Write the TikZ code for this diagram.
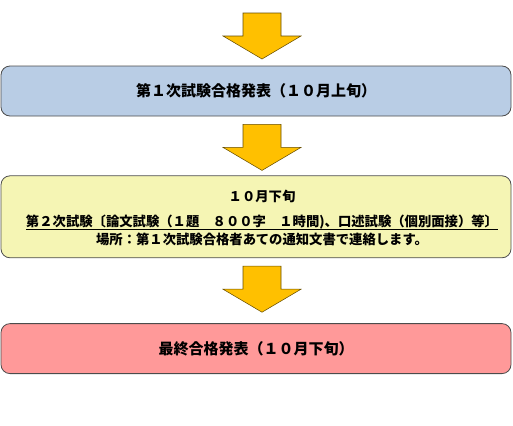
\documentclass[tikz,border=0pt]{standalone}
\usepackage{fontspec}
\newfontfamily\jpfont{Noto Sans CJK JP}
\usetikzlibrary{calc, positioning}

\definecolor{boxblue}{HTML}{B9CDE5}
\definecolor{boxyellow}{HTML}{F5F5B4}
\definecolor{boxpink}{HTML}{FF9999}
\definecolor{arrowgold}{HTML}{FFC000}

\newsavebox\ulinebox
\newcommand\ulinetext[1]{\sbox\ulinebox{#1}\rlap{\rule[-2pt]{\wd\ulinebox}{0.5pt}}\usebox\ulinebox}

\tikzset{
	stage/.style={draw=black!70, line width=0.6pt, rounded corners=6.75pt,
		minimum width=382.5pt, minimum height=37.5pt, inner sep=0pt, align=center,
		font=\jpfont\bfseries\fontsize{11.25}{13}\selectfont},
	stagetext/.style={inner sep=0pt, align=center,
		font=\jpfont\bfseries\fontsize{10}{13.5}\selectfont},
	flowarrow/.style={fill=arrowgold, draw=black!60!arrowgold, line width=0.4pt}
}

\begin{document}
\begin{tikzpicture}[x=0.75pt, y=-0.75pt]
	\useasboundingbox (0,0) rectangle (513,425);

	\node[stage, fill=boxblue] (first) at (256,91) {第１次試験合格発表（１０月上旬）};
	\node[stage, fill=boxyellow, minimum height=61.5pt, below=44.25pt of first] (second) {};
	\node[stagetext] (second text) at ($(second.center)+(6,1.5)$)
		{１０月下旬\\[5.25pt]
		\ulinetext{第２次試験〔論文試験（１題　８００字　１時間)、口述試験（個別面接）等〕}\\
		場所：第１次試験合格者あての通知文書で連絡します。};
	\node[stage, fill=boxpink, below=48.75pt of second] (final) {最終合格発表（１０月下旬）};

	% block arrows
	\coordinate (arr1) at (262,13);
	\coordinate (arr2) at ($(first.south)+(6,8)$);
	\coordinate (arr3) at ($(second.south)+(6,8)$);
	\foreach \a in {arr1, arr2, arr3}
		\draw[flowarrow] (\a) ++(-19,0) -- ++(38,0) -- ++(0,23) -- ++(20,0)
			-- ++(-39,23) -- ++(-39,-23) -- ++(20,0) -- cycle;
\end{tikzpicture}
\end{document}
